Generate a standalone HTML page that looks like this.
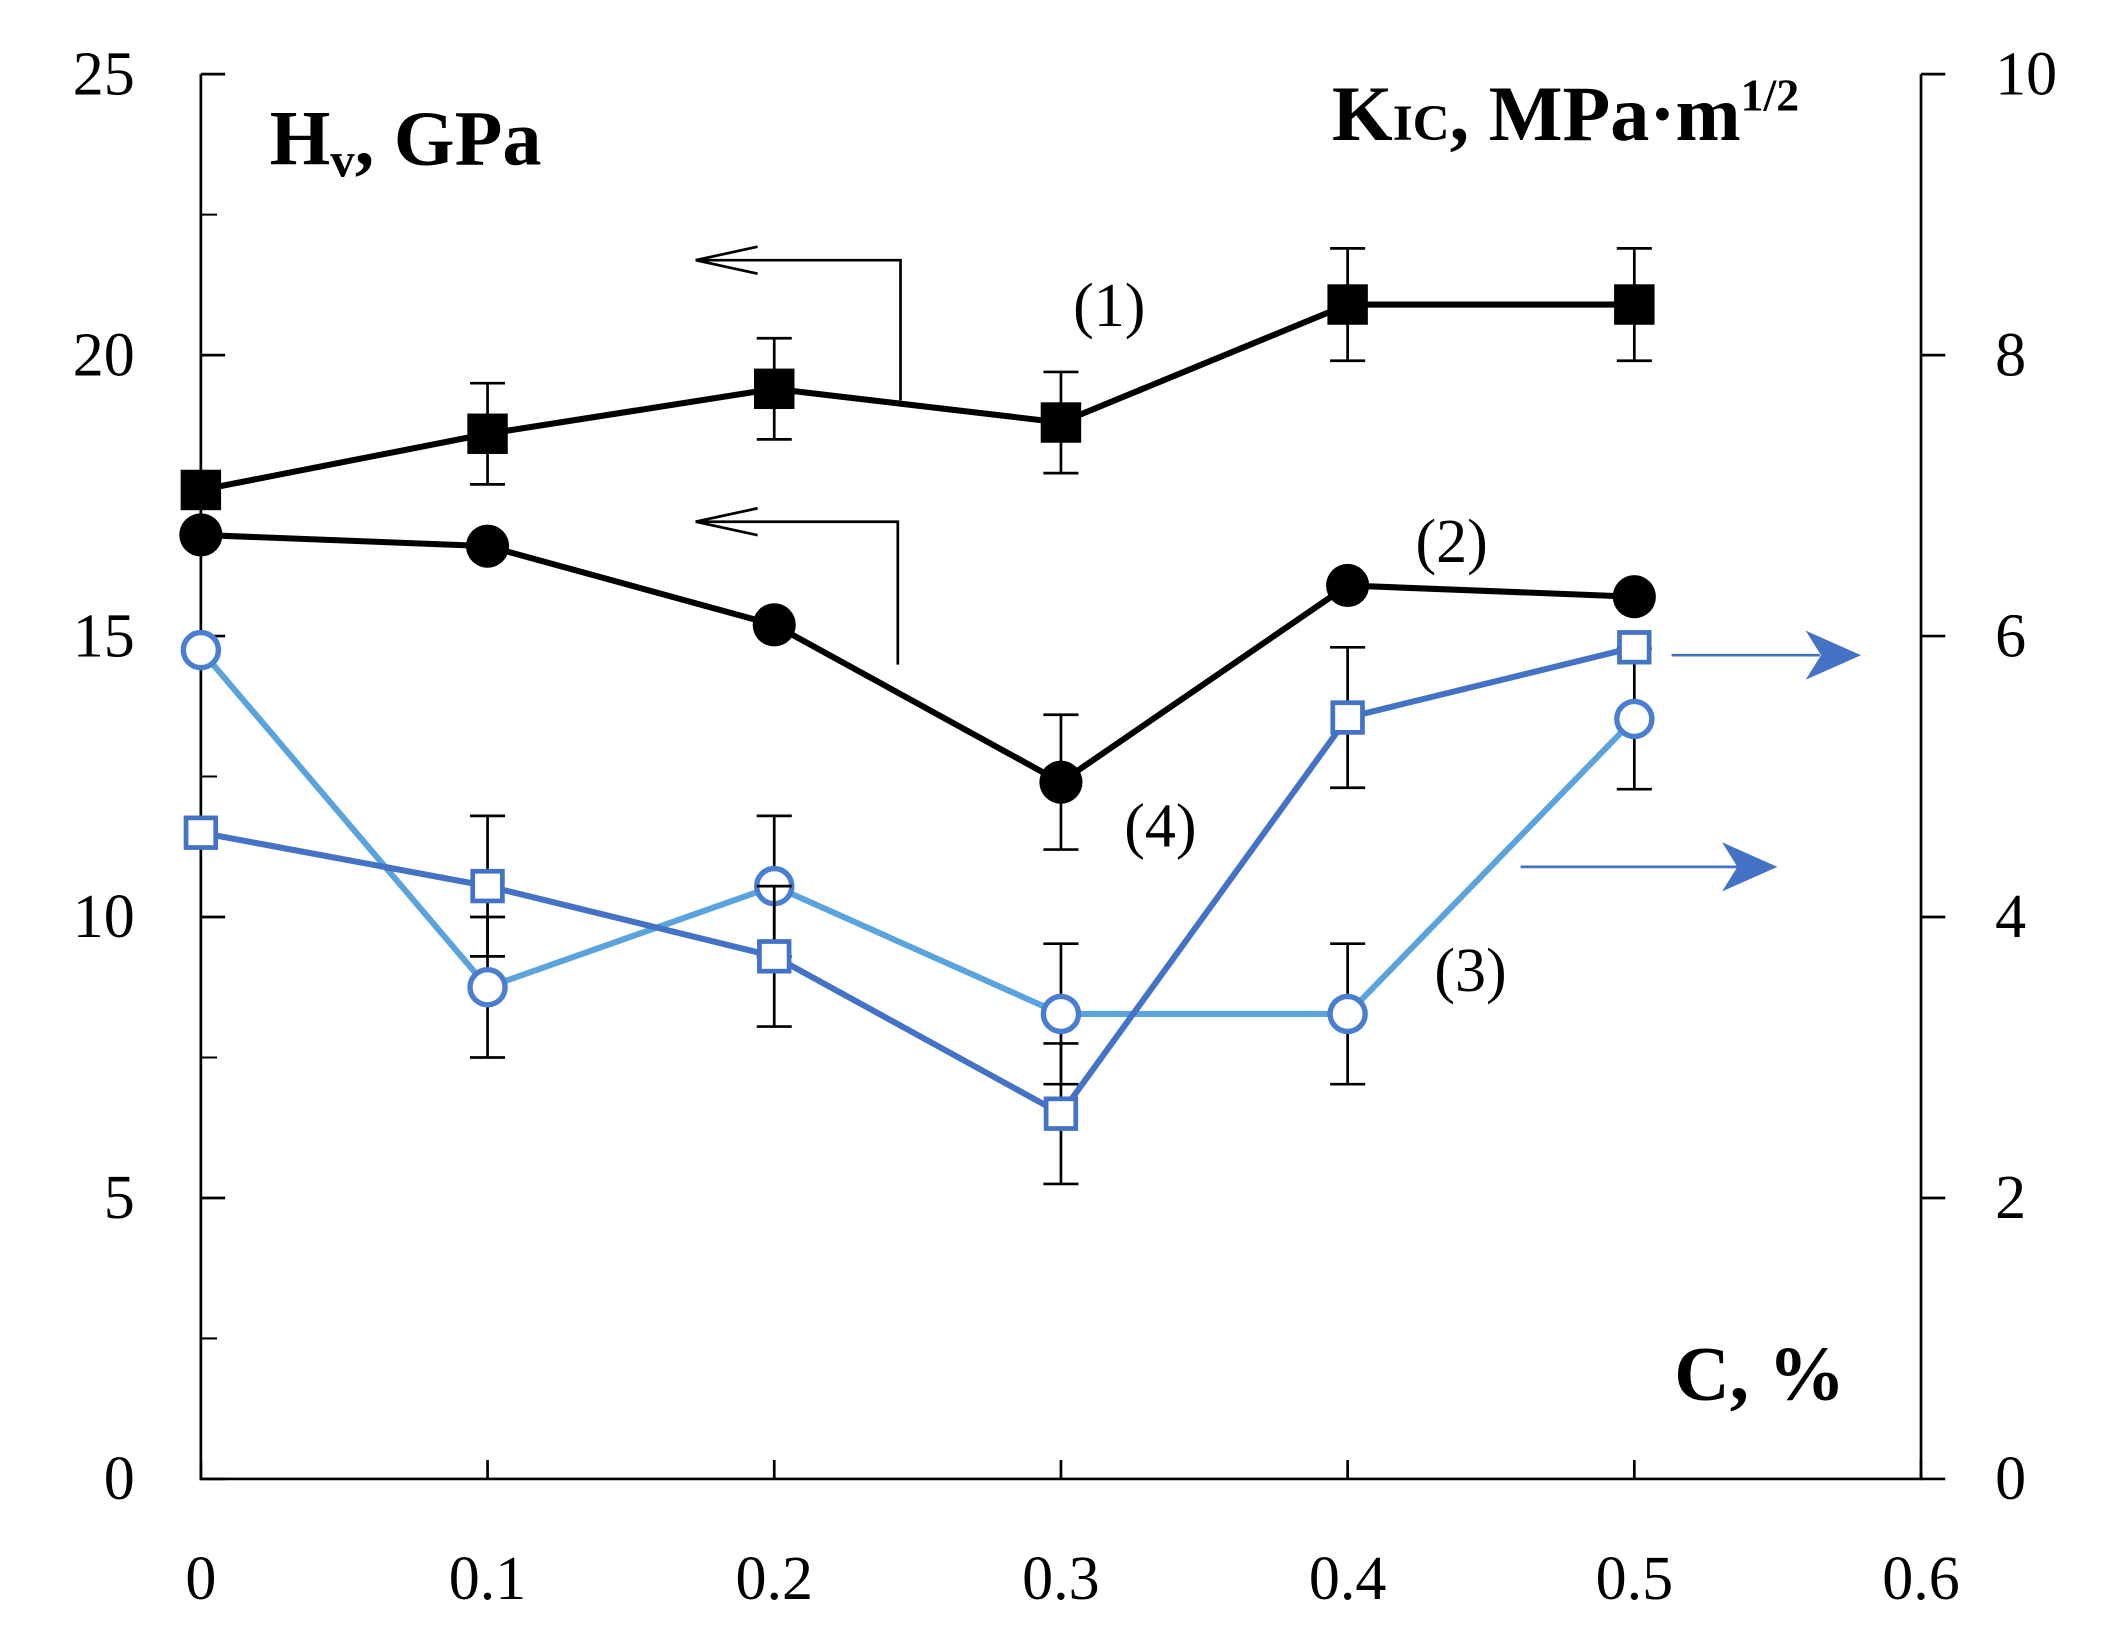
<!DOCTYPE html>
<html><head><meta charset="utf-8"><style>
html,body{margin:0;padding:0;background:#fff}
svg{display:block}
text{font-family:"Liberation Serif",serif}
</style></head><body>
<svg id="chart" width="2103" height="1638" viewBox="0 0 1560 1215" preserveAspectRatio="none" xmlns="http://www.w3.org/2000/svg">
<g id="axes"></g>
<g id="marks"></g>
<g>
<text x="200" y="122" font-size="58" font-weight="bold">H<tspan font-size="36" dy="9">v</tspan><tspan dy="-9">, GPa</tspan></text>
<text x="988" y="104" font-size="58" font-weight="bold">K<tspan font-size="38">IC</tspan>, MPa·m<tspan font-size="34" dy="-22">1/2</tspan></text>
<text x="1242" y="1038" font-size="57" font-weight="bold">C, %</text>
<text x="796" y="242" font-size="46">(1)</text>
<text x="1050" y="417" font-size="46">(2)</text>
<text x="1064" y="735" font-size="46">(3)</text>
<text x="834" y="628" font-size="46">(4)</text>
<g fill="none" stroke="#000" stroke-width="2">
<path d="M668 297 V193 H516"/><path d="M516 193 l46 -10 M516 193 l46 10"/>
<path d="M666 493 V387 H516"/><path d="M516 387 l46 -10 M516 387 l46 10"/>
</g>
<g stroke="#4472c4" stroke-width="2">
<path d="M1240 486 H1350"/><polygon points="1378,486 1342,470 1352,486 1342,502" fill="#4472c4"/>
<path d="M1128 643 H1290"/><polygon points="1316,643 1280,627 1290,643 1280,659" fill="#4472c4"/>
</g>
</g>
</svg>
<script>
const xCats=[0,0.1,0.2,0.3,0.4,0.5];
const s1=[17.6,18.6,19.4,18.8,20.9,20.9];
const s1Err=[0,0.9,0.9,0.9,1.0,1.0];
const s2=[16.8,16.6,15.2,12.4,15.9,15.7];
const s2Err=[0,0.2,0,1.2,0,0];
const s3=[5.9,3.5,4.22,3.31,3.31,5.41];
const s3Err=[0,0.5,0.5,0.5,0.5,0.5];
const s4=[4.6,4.22,3.72,2.6,5.42,5.92];
const s4Err=[0,0.5,0.5,0.5,0.5,0];
const xTicks=[0,0.1,0.2,0.3,0.4,0.5,0.6];
const yLeftTicks=[0,5,10,15,20,25];
const yRightTicks=[0,2,4,6,8,10];

const NS="http://www.w3.org/2000/svg";
const X0=149,X1=1425,Y0=1097,Y1=55;
const xs=v=>X0+(X1-X0)*v/0.6;
const yl=v=>Y0-(Y0-Y1)*v/25;
const yr=v=>Y0-(Y0-Y1)*v/10;
function mk(p,t,a){const e=document.createElementNS(NS,t);for(const k in a)e.setAttribute(k,a[k]);p.appendChild(e);return e;}
const ax=document.getElementById('axes'),mg=document.getElementById('marks');
let e;
e=mk(ax,'path',{d:`M${X0} ${Y1} V${Y0} H${X1} V${Y1}`,fill:'none',stroke:'#000','stroke-width':2});


xTicks.forEach(t=>{const x=xs(t);
 mk(ax,'line',{x1:x,x2:x,y1:Y0,y2:Y0-14,stroke:'#000','stroke-width':2});
 e=mk(ax,'text',{x:x,y:1186,'font-size':46,'text-anchor':'middle'});e.textContent=String(t);
 
 });
yLeftTicks.forEach(t=>{const y=yl(t);
 mk(ax,'line',{x1:X0,x2:X0+18,y1:y,y2:y,stroke:'#000','stroke-width':2});
 e=mk(ax,'text',{x:100,y:y+15,'font-size':46,'text-anchor':'end'});e.textContent=String(t);
 
 });
for(let t=2.5;t<25;t+=5){const y=yl(t);mk(ax,'line',{x1:X0,x2:X0+12,y1:y,y2:y,stroke:'#000','stroke-width':1.5});}
yRightTicks.forEach(t=>{const y=yr(t);
 mk(ax,'line',{x1:X1,x2:X1+18,y1:y,y2:y,stroke:'#000','stroke-width':2});
 e=mk(ax,'text',{x:1480,y:y+15,'font-size':46,'text-anchor':'start'});e.textContent=String(t);
 
 });

function series(vals,errs,ys,color,mcolor,marker,filled,name){
 const g=mk(mg,'g',{});
 
 
 vals.forEach((v,i)=>{if(errs[i]>0){const x=xs(xCats[i]),a=ys(v+errs[i]),b=ys(v-errs[i]);
  mk(g,'path',{d:`M${x} ${a} V${b} M${x-13} ${a} H${x+13} M${x-13} ${b} H${x+13}`,stroke:'#000','stroke-width':2,fill:'none'});}});
 mk(g,'polyline',{points:vals.map((v,i)=>xs(xCats[i])+','+ys(v)).join(' '),fill:'none',stroke:color,'stroke-width':4.5});
 vals.forEach((v,i)=>{const x=xs(xCats[i]),y=ys(v);let m;
  if(marker==='sq'){const s=filled?30:22;m=mk(g,'rect',{x:x-s/2,y:y-s/2,width:s,height:s,fill:filled?mcolor:'#fff',stroke:mcolor,'stroke-width':filled?0:3.5});}
  else{m=mk(g,'circle',{cx:x,cy:y,r:filled?16:13,fill:filled?mcolor:'#fff',stroke:mcolor,'stroke-width':filled?0:4});}
  
  });
}
series(s3,s3Err,yr,'#5ba3dc','#4a7fd0','ci',false,'series-3-kic-light-blue');
series(s4,s4Err,yr,'#4472c4','#4472c4','sq',false,'series-4-kic-blue');
series(s2,s2Err,yl,'#000','#000','ci',true,'series-2-hv-circles');
series(s1,s1Err,yl,'#000','#000','sq',true,'series-1-hv-squares');
</script>
</body></html>
